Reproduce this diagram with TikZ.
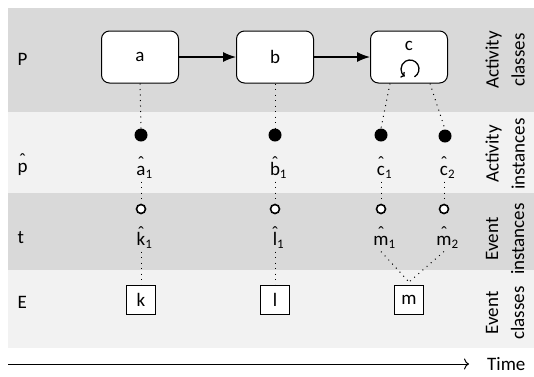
\documentclass[tikz,border=0pt]{standalone}
\usepackage{fontspec}
\setmainfont{Carlito}
\usepackage{tikz}
\usetikzlibrary{arrows,arrows.meta,positioning}
\tikzset{>=Latex}

% letter with a hat at a fixed height, and a subscript
\newcommand{\hatted}[1]{\leavevmode\setbox0\hbox{#1}\rlap{\hbox to\wd0{\hss\raisebox{6pt}{\char"02C6}\hss}}\box0}
\newcommand{\idx}[1]{\rlap{\raisebox{-3pt}{\fontsize{13}{13}\selectfont #1}}}

\begin{document}
\begin{tikzpicture}[x=1pt,y=-1pt,
                    font=\fontsize{19}{26}\selectfont,
                    darkband/.style={fill=black!15},
                    lightband/.style={fill=black!5},
                    actclass/.style={draw, line width=1pt, rounded corners=8pt, fill=white, minimum width=77pt, minimum height=52pt},
                    actinst/.style={circle, fill=black, inner sep=0pt, minimum size=13pt},
                    evinst/.style={circle, draw, line width=1.6pt, fill=white, inner sep=0pt, minimum size=9pt},
                    evclass/.style={draw, line width=1pt, fill=white, minimum size=29pt, inner sep=0pt},
                    link/.style={line width=1.3pt, -{Latex[length=13pt,width=10pt]}},
                    mydot/.style={line width=1pt, dash pattern=on 1pt off 4.5pt},
                    rowlbl/.style={anchor=base west},
                    instlbl/.style={anchor=base},
                    sidelbl/.style={rotate=90, align=center},
                   ]

\useasboundingbox (0,0) rectangle (534,376);

% bands
\fill[darkband] (8,8) rectangle (534,112);
\fill[lightband] (8,112) rectangle (534,193);
\fill[darkband] (8,193) rectangle (534,270);
\fill[lightband] (8,270) rectangle (534,348);

\node[rowlbl] (P) at (14,65) {P};
\node[rowlbl] (phat) at (14,172) {\hatted{p}};
\node[rowlbl] (t) at (14,243) {t};
\node[rowlbl] (E) at (14,308) {E};

% activity classes
\node[actclass] (a) at (140,57) {a};
\node[actclass] (b) at (275,57) {b};
\node[actclass] (c) at (409,57) {};
\node (ctext) at (409,46) {c};
\coordinate (loopc) at (410,69);
\draw[line width=1.3pt, -{To[length=3.5pt,width=7pt]}] ([shift={(60:9)}]loopc) arc[start angle=60, end angle=-235, radius=9];

\draw[link] (a) -- (b);
\draw[link] (b) -- (c);

% activity instances
\node[actinst] (a1) at (141,135) {};
\node[actinst] (b1) at (275,135) {};
\node[actinst] (c1) at (381,135) {};
\node[actinst] (c2) at (445,136) {};
\node[instlbl] (a1l) at (141,175) {\hatted{a}\idx{1}};
\node[instlbl] (b1l) at (275,175) {\hatted{b}\idx{1}};
\node[instlbl] (c1l) at (381,175) {\hatted{c}\idx{1}};
\node[instlbl] (c2l) at (444,175) {\hatted{c}\idx{2}};

% event instances
\node[evinst] (k1) at (141,209) {};
\node[evinst] (l1) at (275,209) {};
\node[evinst] (m1) at (381,209) {};
\node[evinst] (m2) at (444,209) {};
\node[instlbl] (k1l) at (141,245) {\hatted{k}\idx{1}};
\node[instlbl] (l1l) at (275,245) {\hatted{l}\idx{1}};
\node[instlbl] (m1l) at (381,245) {\hatted{m}\idx{1}};
\node[instlbl] (m2l) at (444,245) {\hatted{m}\idx{2}};

% event classes
\node[evclass] (k) at (141,300) {k};
\node[evclass] (l) at (275,300) {l};
\node[evclass] (m) at (409,300) {m};
\coordinate (mtop) at ([yshift=3pt]m.north);

\draw[mydot] (a.south) -- (a1.north);
\draw[mydot] (b.south) -- (b1.north);
\draw[mydot] ([xshift=-19pt]c.south) -- (c1.north);
\draw[mydot] ([xshift=21pt]c.south) -- (c2.north);
\draw[mydot] (a1l.south) -- (k1.north);
\draw[mydot] (b1l.south) -- (l1.north);
\draw[mydot] (c1l.south) -- (m1.north);
\draw[mydot] (c2l.south) -- (m2.north);
\draw[mydot] (k1l.south) -- (k.north);
\draw[mydot] (l1l.south) -- (l.north);
\draw[mydot] (m1l.south) -- (mtop);
\draw[mydot] (m2l.south) -- (mtop);

\node[sidelbl] (acls) at (505,60) {Activity\\classes};
\node[sidelbl] (ains) at (505,154) {Activity\\instances};
\node[sidelbl] (eins) at (505,239) {Event\\instances};
\node[sidelbl] (ecls) at (505,313) {Event\\classes};

% time axis
\coordinate (tstart) at (8,364);
\node[anchor=west, inner sep=0pt] (time) at (487,364) {Time};
\draw[line width=1pt, -{To[length=5pt,width=11pt]}, shorten >=18pt] (tstart) -- (time.west);

\end{tikzpicture}
\end{document}
